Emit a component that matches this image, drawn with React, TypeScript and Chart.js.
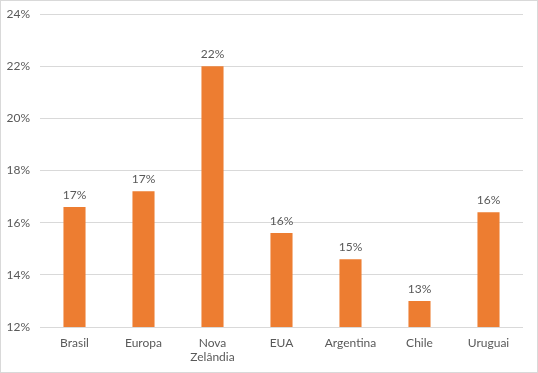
import React, { useEffect, useRef } from "react";
import { Chart, registerables } from "chart.js";

Chart.register(...registerables);

const categories: (string | string[])[] = ["Brasil", "Europa", ["Nova", "Zelândia"], "EUA", "Argentina", "Chile", "Uruguai"];
const values: number[] = [16.6, 17.2, 22.0, 15.6, 14.6, 13.0, 16.4];
const yMin = 12;
const yMax = 24;
const yStep = 2;

const TEXT = "#595959";
const FONT = "Lato, 'Liberation Sans', sans-serif";

const labelPlugin = {
  id: "barLabels",
  afterDatasetsDraw(chart: any) {
    const ctx = chart.ctx;
    const meta = chart.getDatasetMeta(0);
    ctx.save();
    ctx.fillStyle = TEXT;
    ctx.font = `12px ${FONT}`;
    ctx.textAlign = "center";
    ctx.textBaseline = "bottom";
    meta.data.forEach((bar: any, i: number) => {
      ctx.fillText(`${Math.round(values[i])}%`, bar.x, bar.y - 6);
    });
    ctx.restore();
  },
};

const borderPlugin = {
  id: "chartBorder",
  beforeDraw(chart: any) {
    const ctx = chart.ctx;
    ctx.save();
    ctx.fillStyle = "#ffffff";
    ctx.fillRect(0, 0, chart.width, chart.height);
    ctx.restore();
  },
  afterDraw(chart: any) {
    const ctx = chart.ctx;
    ctx.save();
    ctx.strokeStyle = "#d9d9d9";
    ctx.lineWidth = 1;
    ctx.strokeRect(0.5, 0.5, chart.width - 1, chart.height - 1);
    ctx.restore();
  },
};

export default function App() {
  const ref = useRef<HTMLCanvasElement>(null);
  useEffect(() => {
    if (!ref.current) return;
    const chart = new Chart(ref.current, {
      type: "bar",
      data: {
        labels: categories,
        datasets: [
          {
            data: values,
            backgroundColor: "#ED7D31",
            barPercentage: 0.32,
            categoryPercentage: 1,
          },
        ],
      },
      options: {
        animation: false,
        responsive: false,
        maintainAspectRatio: false,
        layout: { padding: { top: 14, right: 15, left: 0, bottom: 0 } },
        plugins: { legend: { display: false }, tooltip: { enabled: false } },
        scales: {
          x: {
            grid: { display: false },
            border: { display: false },
            ticks: { color: TEXT, font: { family: FONT, size: 12 }, padding: 1, maxRotation: 0, autoSkip: false },
            afterFit: (s: any) => {
              s.height = 46;
              s.paddingLeft = 0;
              s.paddingRight = 0;
            },
          },
          y: {
            min: yMin,
            max: yMax,
            grid: { color: "#d9d9d9", drawTicks: false },
            border: { display: false },
            ticks: {
              stepSize: yStep,
              color: TEXT,
              font: { family: FONT, size: 12 },
              padding: 10,
              callback: (v: any) => `${v}%`,
            },
            afterFit: (s: any) => {
              s.width = 40;
              s.paddingTop = 0;
              s.paddingBottom = 0;
            },
          },
        },
      },
      plugins: [labelPlugin, borderPlugin],
    });
    return () => chart.destroy();
  }, []);
  return (
    <div style={{ position: "fixed", left: 0, top: 0, width: 538, height: 373 }}>
      <canvas ref={ref} width={538} height={373} style={{ display: "block" }} />
    </div>
  );
}
